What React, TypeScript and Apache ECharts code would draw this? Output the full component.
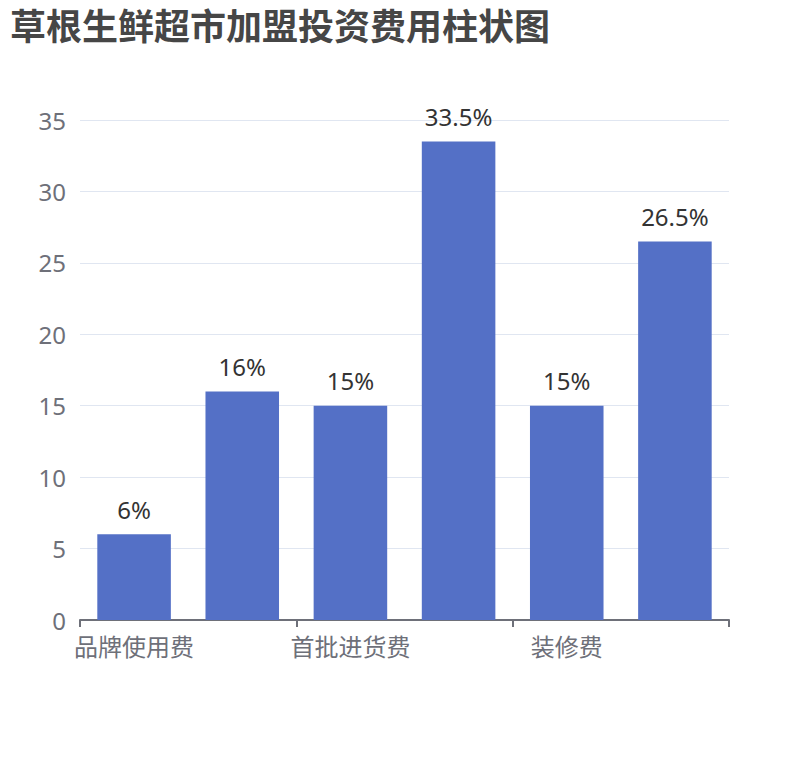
import React, { useEffect, useRef } from 'react';
import * as echarts from 'echarts';

const title = '草根生鲜超市加盟投资费用柱状图';
const categories = ['品牌使用费', '保证金', '首批进货费', '设备费', '装修费', '房租'];
const values = [6, 16, 15, 33.5, 15, 26.5];
const yMin = 0;
const yMax = 35;
const yStep = 5;

const FONT = '"Noto Sans", "Noto Sans CJK SC", sans-serif';

const App: React.FC = () => {
  const chartRef = useRef<HTMLDivElement>(null);

  useEffect(() => {
    if (!chartRef.current) return;
    const chart = echarts.init(chartRef.current, null, { renderer: 'svg' });
    chart.setOption({
      animation: false,
      textStyle: { fontFamily: FONT },
      title: {
        text: title,
        left: 5,
        top: 3,
        textStyle: { fontSize: 36, fontWeight: 'bold', color: '#464646', fontFamily: FONT }
      },
      grid: { left: 80, right: 81, top: 120, bottom: 140 },
      xAxis: {
        type: 'category',
        data: categories,
        axisLine: { lineStyle: { color: '#6e7079', width: 2 } },
        axisTick: { show: true, length: 7, lineStyle: { color: '#6e7079', width: 2 } },
        axisLabel: { fontSize: 24, color: '#6e7079', margin: 14, fontFamily: FONT }
      },
      yAxis: {
        type: 'value',
        min: yMin,
        max: yMax,
        interval: yStep,
        axisLabel: { fontSize: 24, color: '#6e7079', margin: 14, fontFamily: FONT },
        splitLine: { lineStyle: { color: '#e0e6f1' } }
      },
      series: [
        {
          type: 'bar',
          data: values,
          barWidth: '68%',
          itemStyle: { color: '#5470c6' },
          label: {
            show: true,
            position: 'top',
            distance: 13,
            formatter: '{c}%',
            fontSize: 24,
            color: '#333',
            fontFamily: FONT
          }
        }
      ]
    });
    return () => chart.dispose();
  }, []);

  return <div ref={chartRef} style={{ width: 810, height: 760, margin: -8 }} />;
};

export default App;
